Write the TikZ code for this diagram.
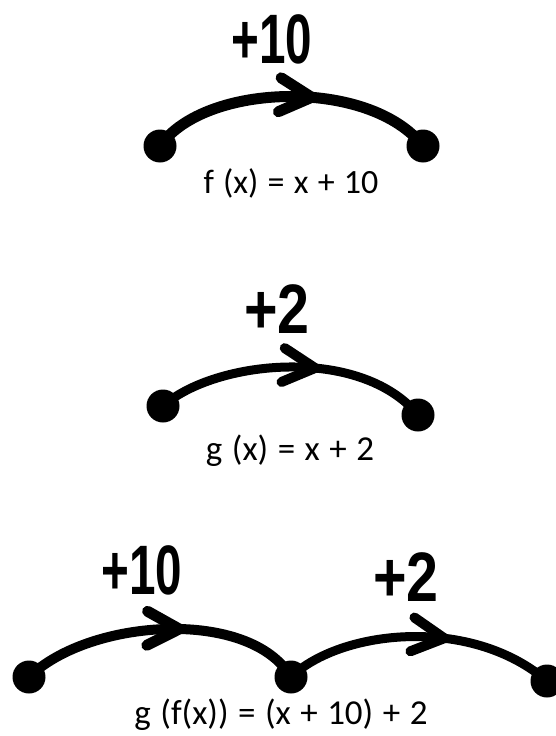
\documentclass[tikz,border=0pt]{standalone}
\usepackage{fontspec}
\usepackage{graphicx}
\newfontfamily\labfont{Liberation Sans}
\newfontfamily\formfont[WordSpace=1.2]{Carlito}
\usetikzlibrary{decorations.markings}
\begin{document}
\begin{tikzpicture}[x=1pt,y=-1pt,
  dot/.style={circle,fill=black,inner sep=0pt,minimum size=33pt},
  arcline/.style={line width=#1, line cap=round},
  chev/.style 2 args={postaction={decorate}, decoration={markings,
     mark=at position #1 with {\draw[line width=#2, line cap=round, line join=round] (-32,-17) -- (0,0) -- (-32,17);}}},
  lab/.style={anchor=base, inner sep=0pt, font=\labfont\bfseries\fontsize{70}{70}\selectfont},
  form/.style={anchor=base, inner sep=0pt, font=\formfont\fontsize{#1}{#1}\selectfont}
]
\useasboundingbox (0,0) rectangle (556,736);

% --- top: f(x) = x + 10
\node[dot] (a1) at (160,146) {};
\node[dot] (a2) at (423,146) {};
\draw[arcline=11pt, chev={0.57}{11pt}] (a1.center) .. controls (205,82) and (370,78) .. (a2.center);
\node[lab] (l1) at (272,63) {\scalebox{0.68}[1]{+10}};
\node[form=34] (t1) at (291,193) {f (x) = x + 10};

% --- middle: g(x) = x + 2
\node[dot] (b1) at (163,406) {};
\node[dot] (b2) at (418,415) {};
\draw[arcline=9pt, chev={0.58}{10pt}] (b1.center) .. controls (215,360) and (360,345) .. (b2.center);
\node[lab] (l2) at (277,333) {\scalebox{0.82}[1]{+2}};
\node[form=35] (t2) at (290,460) {g (x) = x + 2};

% --- bottom: g(f(x)) = (x + 10) + 2
\node[dot] (c1) at (29,677) {};
\node[dot] (c2) at (291,677) {};
\node[dot] (c3) at (547,681) {};
\draw[arcline=10pt, chev={0.56}{11pt}] (c1.center) .. controls (90,618) and (250,608) .. (c2.center);
\draw[arcline=9pt, chev={0.59}{10pt}] (c2.center) .. controls (340,630) and (470,615) .. (c3.center);
\node[lab] (l3) at (142,594) {\scalebox{0.68}[1]{+10}};
\node[lab] (l4) at (406,601) {\scalebox{0.82}[1]{+2}};
\node[form=35] (t3) at (281,724) {g (f(x)) = (x + 10) + 2};
\end{tikzpicture}
\end{document}
